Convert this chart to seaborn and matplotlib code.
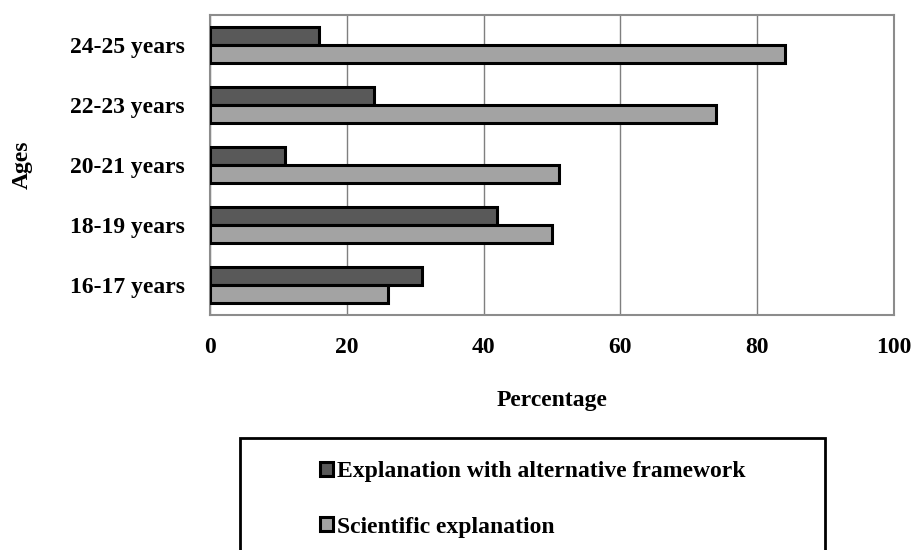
import pandas as pd
import matplotlib
matplotlib.use("Agg")
import matplotlib.pyplot as plt
import seaborn as sns
from matplotlib.patches import Rectangle

# data (top group first)
ages = ["24-25 years", "22-23 years", "20-21 years", "18-19 years", "16-17 years"]
alternative = [16, 24, 11, 42, 31]
scientific = [84, 74, 51, 50, 26]
series = ["Explanation with alternative framework", "Scientific explanation"]
colors = ["#595959", "#a3a3a3"]

df = pd.DataFrame({
    "Age": ages * 2,
    "Percentage": alternative + scientific,
    "Type": [series[0]] * len(ages) + [series[1]] * len(ages),
})

sns.set_style("white")
plt.rcParams["font.family"] = ["Liberation Serif", "DejaVu Serif"]
plt.rcParams["font.weight"] = "bold"
plt.rcParams["text.color"] = "black"
plt.rcParams["axes.labelcolor"] = "black"
plt.rcParams["xtick.labelcolor"] = "black"
plt.rcParams["ytick.labelcolor"] = "black"

fig = plt.figure(figsize=(9.13, 5.5), dpi=100)
ax = fig.add_axes([210 / 913, 1 - 315 / 550, 684 / 913, 300 / 550])

sns.barplot(data=df, x="Percentage", y="Age", hue="Type", order=ages,
            hue_order=series, palette=colors, orient="h", width=0.6,
            edgecolor="black", linewidth=2.2, ax=ax, legend=True, zorder=3)

ax.set_xlim(0, 100)
ax.set_xticks([0, 20, 40, 60, 80, 100])
ax.grid(axis="x", color="#7f7f7f", linewidth=1, zorder=0)
for s in ax.spines.values():
    s.set_color("#8c8c8c")
    s.set_linewidth(1.5)
ax.tick_params(axis="x", length=6, width=1, color="#8c8c8c", pad=10, labelsize=17,
               labelcolor="black")
ax.tick_params(axis="y", length=0, pad=18, labelsize=17, labelcolor="black")
for t in ax.get_xticklabels() + ax.get_yticklabels():
    t.set_fontweight("bold")

ax.set_xlabel("Percentage", fontsize=17, fontweight="bold", labelpad=23, color="black")
ax.set_ylabel("Ages", fontsize=17, fontweight="bold", color="black")
ax.yaxis.set_label_coords(-(210 - 33) / 684, 0.5)

# legend in a box under the chart
handles, labels = ax.get_legend_handles_labels()
ax.get_legend().remove()
fig.patches.append(Rectangle((240 / 913, -0.05), 585 / 913, 0.05 + (550 - 438) / 550,
                             transform=fig.transFigure, fill=False,
                             edgecolor="black", linewidth=2))
fig.legend(handles, labels, loc="upper left", bbox_to_anchor=(311 / 913, 1 - 452 / 550),
           frameon=False, prop={"family": "Liberation Serif", "weight": "bold", "size": 17},
           handlelength=0.55, handleheight=0.55, handletextpad=0.15, labelspacing=1.45,
           borderaxespad=0, labelcolor="black")

fig.savefig("out.png", dpi=100)
